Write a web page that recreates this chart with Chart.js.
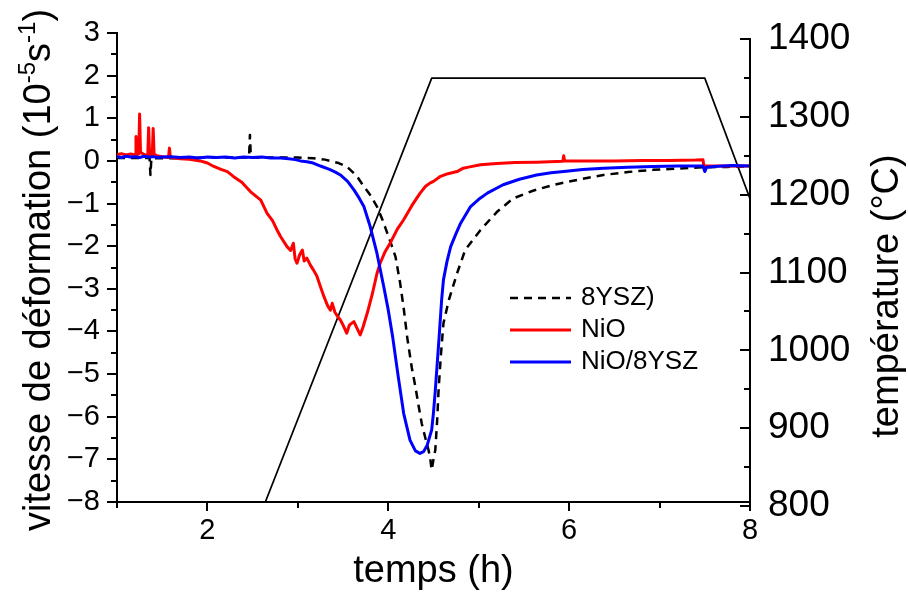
<!DOCTYPE html>
<html>
<head>
<meta charset="utf-8">
<script src="https://cdn.jsdelivr.net/npm/chart.js@4.4.0/dist/chart.umd.min.js"></script>
<style>
html,body{margin:0;padding:0;background:#fff;}
canvas{display:block;}
</style>
</head>
<body>
<canvas id="c" width="908" height="593" style="width:908px;height:593px"></canvas>
<script>
const FONT = "'Liberation Sans', Arial, Helvetica, sans-serif";

// ---- tick labels ----
const xMajorTicks = [2, 4, 6, 8];
const xMinorTicks = [1, 3, 5, 7];
const yMajorTicks = [-8, -7, -6, -5, -4, -3, -2, -1, 0, 1, 2, 3];
const yMinorTicks = [-7.5, -6.5, -5.5, -4.5, -3.5, -2.5, -1.5, -0.5, 0.5, 1.5, 2.5];
const y2MajorTicks = [800, 900, 1000, 1100, 1200, 1300, 1400];
const y2MinorTicks = [850, 950, 1050, 1150, 1250, 1350];

// ---- series: 8YSZ) (black dashed) ----
const t8YSZ = [1.00,1.20,1.36,1.37,1.38,1.60,2.00,2.46,2.47,2.48,
  2.80,3.00,3.17,3.30,3.45,3.54,3.65,3.73,3.80,3.875,
  3.93,3.99,4.04,4.08,4.13,4.17,4.21,4.26,4.30,4.34,
  4.37,4.41,4.445,4.465,4.48,4.50,4.52,4.54,4.556,4.58,
  4.61,4.67,4.76,4.85,5.02,5.20,5.38,5.60,5.83,6.10,
  6.38,6.65,6.93,7.20,7.48,7.75,8.00];
const v8YSZ = [0.07,0.07,0.07,-0.33,0.06,0.06,0.08,0.08,0.61,0.08,
  0.08,0.08,0.06,0.03,-0.05,-0.13,-0.35,-0.60,-0.80,-1.07,
  -1.35,-1.70,-2.00,-2.25,-2.85,-3.45,-4.15,-4.85,-5.30,-5.80,
  -6.16,-6.50,-6.78,-7.00,-7.25,-7.00,-6.78,-6.10,-5.38,-4.60,
  -3.81,-3.26,-2.64,-2.09,-1.62,-1.20,-0.88,-0.70,-0.56,-0.44,
  -0.33,-0.26,-0.21,-0.18,-0.15,-0.14,-0.13];

// ---- series: NiO (red) ----
const tNiO = [1.00,1.05,1.10,1.15,1.20,1.21,1.22,1.24,1.25,1.26,
  1.30,1.34,1.35,1.36,1.39,1.40,1.41,1.44,1.50,1.57,
  1.58,1.59,1.70,1.80,1.92,2.00,2.07,2.15,2.22,2.29,
  2.38,2.475,2.59,2.66,2.72,2.77,2.81,2.88,2.92,2.95,
  2.97,2.99,3.02,3.05,3.07,3.10,3.14,3.17,3.21,3.25,
  3.29,3.33,3.36,3.38,3.41,3.44,3.47,3.50,3.54,3.57,
  3.60,3.62,3.66,3.69,3.72,3.77,3.82,3.875,3.91,3.96,
  4.02,4.10,4.17,4.26,4.35,4.41,4.46,4.50,4.57,4.66,
  4.76,4.83,4.90,5.02,5.20,5.40,5.64,5.93,5.94,5.95,
  6.20,6.50,6.80,7.10,7.40,7.48,7.49,7.70,8.00];
const vNiO = [0.15,0.17,0.14,0.16,0.14,0.57,0.15,0.16,1.10,0.20,
  0.15,0.12,0.78,0.15,0.14,0.76,0.16,0.12,0.10,0.08,
  0.30,0.08,0.05,0.04,0.00,-0.05,-0.13,-0.20,-0.25,-0.37,
  -0.50,-0.72,-0.92,-1.23,-1.40,-1.62,-1.78,-2.01,-2.10,-1.93,
  -2.30,-2.40,-2.20,-2.09,-2.35,-2.28,-2.45,-2.55,-2.70,-2.95,
  -3.19,-3.40,-3.50,-3.34,-3.55,-3.65,-3.73,-3.85,-4.04,-3.85,
  -3.80,-3.77,-3.95,-4.08,-3.90,-3.55,-3.15,-2.64,-2.40,-2.15,
  -1.93,-1.60,-1.38,-1.05,-0.76,-0.60,-0.52,-0.48,-0.37,-0.30,
  -0.25,-0.17,-0.14,-0.09,-0.06,-0.04,-0.03,-0.01,0.12,0.00,
  0.00,0.00,0.01,0.01,0.02,0.03,-0.12,-0.12,-0.12];

// ---- series: NiO/8YSZ (blue) ----
const tNiO8YSZ = [1.00,1.05,1.10,1.15,1.20,1.25,1.30,1.35,1.40,1.45,
  1.50,1.60,1.70,1.80,1.90,2.00,2.10,2.20,2.30,2.40,
  2.50,2.60,2.70,2.81,2.90,2.97,3.03,3.10,3.17,3.25,
  3.35,3.42,3.47,3.55,3.62,3.68,3.73,3.80,3.875,3.95,
  4.00,4.05,4.11,4.17,4.24,4.30,4.35,4.39,4.43,4.48,
  4.50,4.52,4.56,4.59,4.61,4.65,4.69,4.75,4.80,4.91,
  5.00,5.10,5.27,5.45,5.64,5.80,5.94,6.15,6.38,6.65,
  6.93,7.20,7.48,7.50,7.52,7.60,7.80,8.00];
const vNiO8YSZ = [0.10,0.08,0.11,0.09,0.10,0.08,0.11,0.09,0.10,0.08,
  0.09,0.10,0.08,0.09,0.07,0.09,0.08,0.09,0.07,0.09,
  0.08,0.09,0.07,0.07,0.05,0.03,0.00,-0.02,-0.05,-0.12,
  -0.20,-0.27,-0.33,-0.48,-0.68,-0.88,-1.07,-1.54,-2.17,-2.95,
  -3.50,-4.15,-5.06,-5.92,-6.55,-6.80,-6.86,-6.82,-6.67,-6.31,
  -5.90,-5.38,-4.20,-3.26,-2.79,-2.35,-2.01,-1.70,-1.46,-1.07,
  -0.90,-0.75,-0.56,-0.43,-0.33,-0.28,-0.25,-0.20,-0.17,-0.15,
  -0.13,-0.12,-0.12,-0.25,-0.15,-0.13,-0.11,-0.12];

// ---- temperature programme (right axis) ----
const tTemp = [2.60, 4.48, 7.50, 8.00];
const TTemp = [793, 1350, 1350, 1195];

const pts = (xs, ys) => xs.map((x, i) => ({x: x, y: ys[i]}));
const fmt = v => (v < 0 ? '\u2212' + String(-v) : String(v));

function hline(ctx, x1, x2, yy) { ctx.beginPath(); ctx.moveTo(x1, yy); ctx.lineTo(x2, yy); ctx.stroke(); }
function vline(ctx, xx, y1, y2) { ctx.beginPath(); ctx.moveTo(xx, y1); ctx.lineTo(xx, y2); ctx.stroke(); }

const decor = {
  id: 'decor',
  afterDraw(chart) {
    const ctx = chart.ctx;
    const a = chart.chartArea;
    const sx = chart.scales.x, sy = chart.scales.y, sy2 = chart.scales.y2;
    ctx.save();
    ctx.strokeStyle = '#000';
    ctx.lineWidth = 2;
    ctx.lineCap = 'butt';
    // left axis ticks (outward)
    yMajorTicks.forEach(v => hline(ctx, a.left - 10, a.left, Math.round(sy.getPixelForValue(v))));
    yMinorTicks.forEach(v => hline(ctx, a.left - 6, a.left, Math.round(sy.getPixelForValue(v))));
    // bottom axis ticks (outward)
    xMajorTicks.forEach(v => vline(ctx, Math.round(sx.getPixelForValue(v)), a.bottom, a.bottom + 9));
    xMinorTicks.forEach(v => vline(ctx, Math.round(sx.getPixelForValue(v)), a.bottom, a.bottom + 6));
    // right axis line
    const rx = Math.round(a.right);
    vline(ctx, rx, Math.round(sy2.getPixelForValue(1400)) - 1, Math.round(sy2.getPixelForValue(800)) + 4);
    // right axis ticks (inward)
    y2MajorTicks.forEach(v => hline(ctx, rx - 10, rx, Math.round(sy2.getPixelForValue(v))));
    y2MinorTicks.forEach(v => hline(ctx, rx - 6, rx, Math.round(sy2.getPixelForValue(v))));

    // legend
    ctx.fillStyle = '#000';
    ctx.font = '26px ' + FONT;
    ctx.textBaseline = 'middle';
    ctx.textAlign = 'left';
    const rows = [298, 330, 362];
    let r = 0;
    chart.data.datasets.forEach(ds => {
      if (ds.noLegend) return;
      const yy = rows[r++];
      ctx.save();
      ctx.strokeStyle = ds.borderColor;
      ctx.lineWidth = ds.borderWidth;
      ctx.setLineDash(ds.borderDash || []);
      hline(ctx, 510, 571, yy);
      ctx.restore();
      ctx.fillText(ds.label, 581, yy);
    });

    // x title
    ctx.textBaseline = 'alphabetic';
    ctx.textAlign = 'center';
    ctx.font = '38px ' + FONT;
    ctx.fillText('temps (h)', (a.left + a.right) / 2, 582);

    // right title (bottom-to-top)
    ctx.save();
    ctx.translate(898, 296);
    ctx.rotate(-Math.PI / 2);
    ctx.textAlign = 'center';
    ctx.fillText('température (°C)', 0, 0);
    ctx.restore();

    // left title with superscripts
    const parts = [
      {t: 'vitesse de déformation (10', sup: false},
      {t: '-5', sup: true},
      {t: 's', sup: false},
      {t: '-1', sup: true},
      {t: ')', sup: false}
    ];
    const mainF = '38px ' + FONT, supF = '24px ' + FONT;
    let W = 0;
    parts.forEach(p => { ctx.font = p.sup ? supF : mainF; W += ctx.measureText(p.t).width; });
    ctx.save();
    ctx.translate(50, 270);
    ctx.rotate(-Math.PI / 2);
    ctx.textAlign = 'left';
    let cx = -W / 2;
    parts.forEach(p => {
      ctx.font = p.sup ? supF : mainF;
      ctx.fillText(p.t, cx, p.sup ? -15 : 0);
      cx += ctx.measureText(p.t).width;
    });
    ctx.restore();
    ctx.restore();
  }
};

const setTicks = arr => scale => { scale.ticks = arr.map(v => ({value: v})); };
const noPad = s => { s.paddingTop = 0; s.paddingBottom = 0; s.paddingLeft = 0; s.paddingRight = 0; };

new Chart(document.getElementById('c'), {
  type: 'line',
  data: {
    datasets: [
      {label: '8YSZ)', data: pts(t8YSZ, v8YSZ), borderColor: '#000000', borderWidth: 2.5, borderDash: [8, 6], yAxisID: 'y', order: 2},
      {label: 'NiO', data: pts(tNiO, vNiO), borderColor: '#ff0000', borderWidth: 3, yAxisID: 'y', order: 1},
      {label: 'NiO/8YSZ', data: pts(tNiO8YSZ, vNiO8YSZ), borderColor: '#0000ff', borderWidth: 3, yAxisID: 'y', order: 0},
      {label: 'température', data: pts(tTemp, TTemp), borderColor: '#000000', borderWidth: 1.7, yAxisID: 'y2', order: 3, noLegend: true}
    ]
  },
  options: {
    responsive: false,
    animation: false,
    devicePixelRatio: 1,
    layout: {padding: {top: 33, left: 0, right: 0, bottom: 0}},
    elements: {point: {radius: 0, hoverRadius: 0}, line: {tension: 0, borderJoinStyle: 'round', fill: false}},
    plugins: {legend: {display: false}, tooltip: {enabled: false}},
    events: [],
    scales: {
      x: {
        type: 'linear', position: 'bottom', min: 1, max: 8,
        afterBuildTicks: setTicks(xMajorTicks),
        afterFit: s => { s.height = 91; noPad(s); },
        grid: {display: false, drawTicks: false},
        border: {display: true, color: '#000', width: 2},
        ticks: {color: '#000', font: {family: FONT, size: 29}, padding: 12, autoSkip: false, maxRotation: 0, callback: fmt}
      },
      y: {
        type: 'linear', position: 'left', min: -8, max: 3,
        afterBuildTicks: setTicks(yMajorTicks),
        afterFit: s => { s.width = 117; noPad(s); },
        grid: {display: false, drawTicks: false},
        border: {display: true, color: '#000', width: 2},
        ticks: {color: '#000', font: {family: FONT, size: 29}, padding: 17, autoSkip: false, callback: fmt}
      },
      y2: {
        type: 'linear', position: 'right', min: 805, max: 1408,
        afterBuildTicks: setTicks(y2MajorTicks),
        afterFit: s => { s.width = 158; noPad(s); },
        grid: {display: false, drawTicks: false},
        border: {display: false},
        ticks: {color: '#000', font: {family: FONT, size: 37}, padding: 18, autoSkip: false, callback: fmt}
      }
    }
  },
  plugins: [decor]
});
</script>
</body>
</html>
